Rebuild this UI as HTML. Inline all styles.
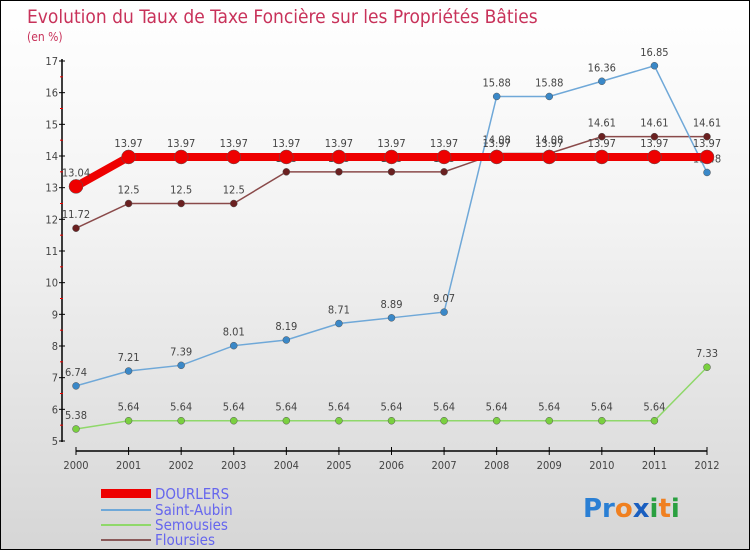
<!DOCTYPE html>
<html><head><meta charset="utf-8"><style>
body{margin:0}
#c{width:748px;height:548px;border:1px solid #000;background:linear-gradient(#fff,#f3f3f3 40%,#d6d6d6);position:relative;font-family:"DejaVu Sans Condensed","Liberation Sans",sans-serif}
</style></head><body>
<div id="c">
<svg id="s" width="748" height="548" xmlns="http://www.w3.org/2000/svg" font-family="'DejaVu Sans Condensed','Liberation Sans',sans-serif">
<text x="26" y="22" font-size="19" fill="#c8325a">Evolution du Taux de Taxe Foncière sur les Propriétés Bâties</text>
<text x="26" y="40" font-size="12" fill="#c8325a">(en %)</text>
<g id="axes"></g><g id="series"></g>
<g>
<rect x="100" y="488" width="50" height="9" fill="#e00"/>
<text x="154" y="498" font-size="15" fill="#6666ee">DOURLERS</text>
<line x1="100" y1="509" x2="150" y2="509" stroke="#6fa8d8" stroke-width="2"/>
<text x="154" y="514" font-size="15" fill="#6666ee">Saint-Aubin</text>
<line x1="100" y1="524" x2="150" y2="524" stroke="#8fd86a" stroke-width="2"/>
<text x="154" y="529" font-size="15" fill="#6666ee">Semousies</text>
<line x1="100" y1="539" x2="150" y2="539" stroke="#8a5a5a" stroke-width="2"/>
<text x="154" y="544" font-size="15" fill="#6666ee">Floursies</text>
</g>
<g font-size="26" font-family="'DejaVu Sans','Liberation Sans',sans-serif" font-weight="bold">
<text x="582" y="516"><tspan fill="#2a7fd4">Pr</tspan><tspan fill="#f08020">o</tspan><tspan fill="#1a5fc0">x</tspan><tspan fill="#2aa040">i</tspan><tspan fill="#f08020">t</tspan><tspan fill="#2aa040">i</tspan></text>
</g>
</svg></div>
<script>
const years=["2000","2001","2002","2003","2004","2005","2006","2007","2008","2009","2010","2011","2012"];
const yTicks=[5,6,7,8,9,10,11,12,13,14,15,16,17];
const dourlers=[13.04,13.97,13.97,13.97,13.97,13.97,13.97,13.97,13.97,13.97,13.97,13.97,13.97];
const saintAubin=[6.74,7.21,7.39,8.01,8.19,8.71,8.89,9.07,15.88,15.88,16.36,16.85,13.48];
const semousies=[5.38,5.64,5.64,5.64,5.64,5.64,5.64,5.64,5.64,5.64,5.64,5.64,7.33];
const floursies=[11.72,12.5,12.5,12.5,13.5,13.5,13.5,13.5,14.08,14.08,14.61,14.61,14.61];
const NS="http://www.w3.org/2000/svg";
const X=i=>75+i*(706-75)/12, Y=v=>440-(v-5)*(380/12);
function mk(t,a,p){const e=document.createElementNS(NS,t);for(const k in a)e.setAttribute(k,a[k]);p.appendChild(e);return e;}
const ax=document.getElementById('axes'), se=document.getElementById('series');
let l=mk('line',{x1:61,y1:58,x2:61,y2:441,stroke:'#000','stroke-width':1.5},ax);


l=mk('line',{x1:75,y1:450,x2:706,y2:450,stroke:'#000','stroke-width':1.5},ax);


yTicks.forEach(v=>{mk('line',{x1:58,y1:Y(v),x2:64,y2:Y(v),stroke:'#000'},ax);
 if(v<17)mk('line',{x1:59,y1:Y(v+0.5),x2:62,y2:Y(v+0.5),stroke:'#e00'},ax);
 const t=mk('text',{x:57,y:Y(v)+4,'font-size':11,'text-anchor':'end',fill:'#444'},ax);t.textContent=v;
 
 });
years.forEach((y,i)=>{mk('line',{x1:X(i),y1:446,x2:X(i),y2:454,stroke:'#000'},ax);
 const t=mk('text',{x:X(i),y:468,'font-size':11,'text-anchor':'middle',fill:'#444'},ax);t.textContent=y;
 
 });
function series(d,col,w,r,dot,name){
 const g=mk('g',{},se);
 
 
 mk('polyline',{points:d.map((v,i)=>X(i)+','+Y(v)).join(' '),fill:'none',stroke:col,'stroke-width':w},g);
 d.forEach((v,i)=>{const c=mk('circle',{cx:X(i),cy:Y(v),r:r,fill:dot,stroke:'#555','stroke-width':0.5},g);
  
  
  const t=mk('text',{x:X(i),y:Y(v)-10,'font-size':11,'text-anchor':'middle',fill:'#444'},g);t.textContent=v;
  
  });
}
series(floursies,'#8a4a4a',1.5,3.5,'#6a2020','floursies');
series(semousies,'#8fd86a',1.5,3.5,'#7ad040','semousies');
series(saintAubin,'#6fa8d8',1.5,3.5,'#3a88c8','saint-aubin');
series(dourlers,'#ee0000',8,7,'#ee0000','dourlers');
</script>
</body></html>
